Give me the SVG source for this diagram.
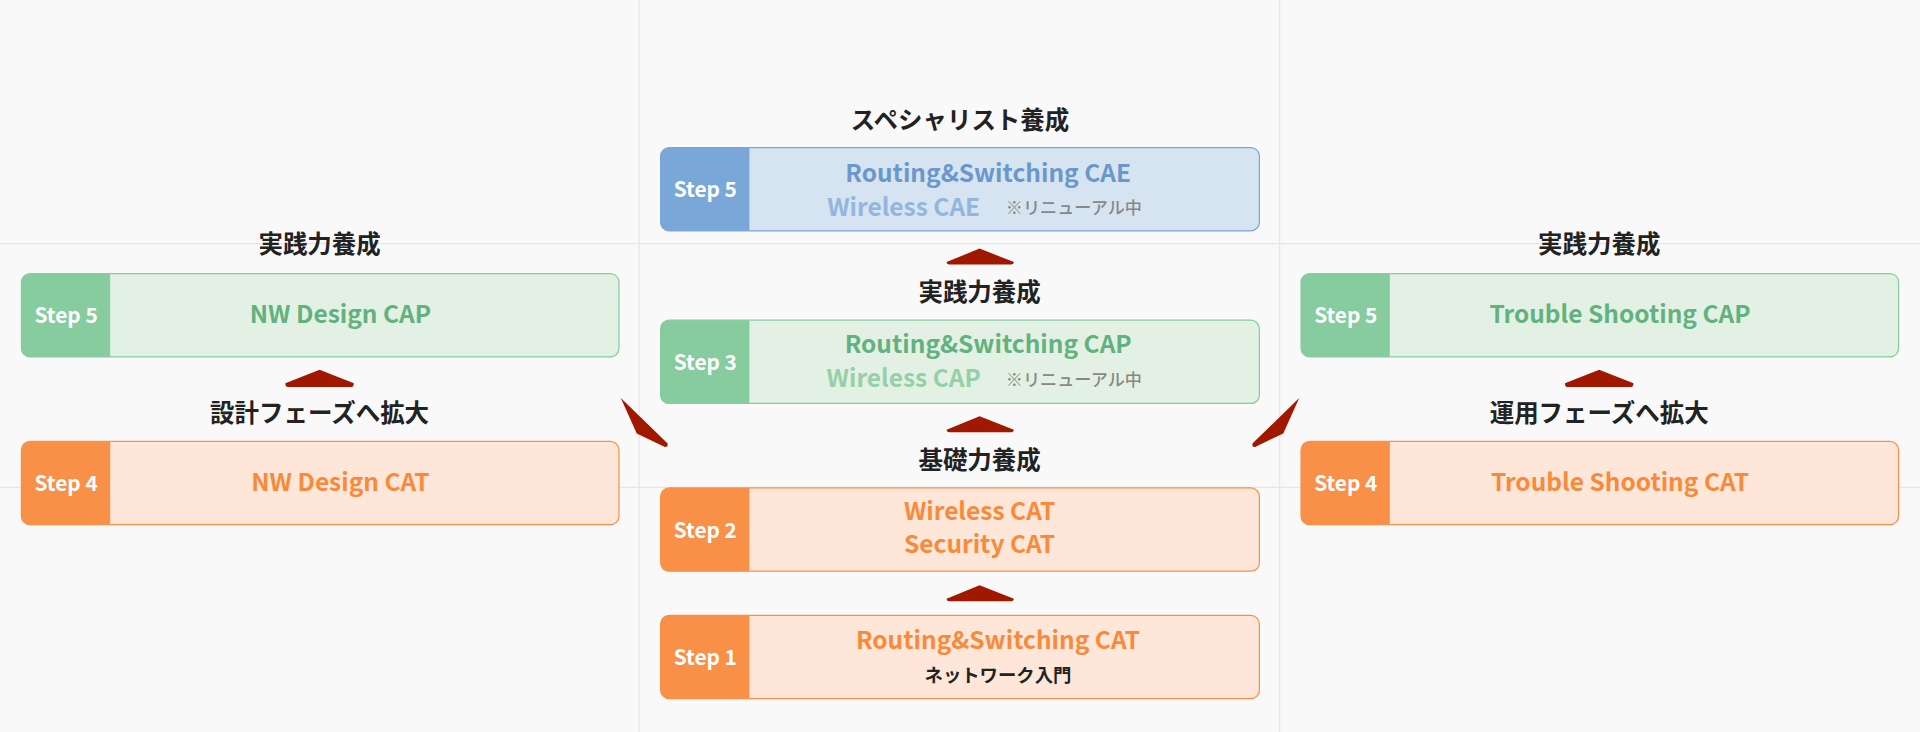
<svg xmlns="http://www.w3.org/2000/svg" width="1920" height="732" viewBox="0 0 1920 732">
<style>
text{font-family:"Noto Sans CJK JP","Noto Sans",sans-serif;font-weight:700;text-anchor:middle}
.h{font-size:20px;fill:#222}
.s{font-size:17px;fill:#fff}
.m{font-size:20px}
.n{font-size:14px;fill:#888;font-weight:500}
.grid{stroke:#e6e6e6;stroke-width:1}
.arr{fill:#a01800}
</style>
<rect width="1920" height="732" fill="#f9f9f9"/>
<g transform="scale(1.2245)">
<g id="grid" class="grid">
<line x1="522" y1="0" x2="522" y2="598"/><line x1="1045" y1="0" x2="1045" y2="598"/>
<line x1="0" y1="199" x2="1568" y2="199"/><line x1="0" y1="398" x2="1568" y2="398"/>
</g>
<g id="labels">
<text class="h" x="784" y="105">スペシャリスト養成</text>
<text class="h" x="800" y="246">実践力養成</text>
<text class="h" x="800" y="383">基礎力養成</text>
<text class="h" x="261" y="207">実践力養成</text>
<text class="h" x="261" y="345">設計フェーズへ拡大</text>
<text class="h" x="1306" y="207">実践力養成</text>
<text class="h" x="1306" y="345">運用フェーズへ拡大</text>
</g>
<g id="c5">
<rect x="539.5" y="120.5" width="489" height="68" rx="7" fill="#d6e4f2" stroke="#79a7d8"/>
<path d="M546.5 120.5H612V188.5H546.5A7 7 0 0 1 539.5 181.5V127.5A7 7 0 0 1 546.5 120.5Z" fill="#79a7d8"/>
<text class="s" x="576" y="161">Step 5</text>
<text class="m" x="807" y="149" fill="#6a97cc">Routing&amp;Switching CAE</text>
<text class="m" x="738" y="176" fill="#93b5de">Wireless CAE</text>
<text class="n" x="877" y="175">※リニューアル中</text>
</g>
<g id="c3">
<rect x="539.5" y="261.5" width="489" height="68" rx="7" fill="#e2f1e4" stroke="#86cc9e"/>
<path d="M546.5 261.5H612V329.5H546.5A7 7 0 0 1 539.5 322.5V268.5A7 7 0 0 1 546.5 261.5Z" fill="#86cc9e"/>
<text class="s" x="576" y="302">Step 3</text>
<text class="m" x="807" y="288" fill="#62b27f">Routing&amp;Switching CAP</text>
<text class="m" x="738" y="316" fill="#96d0a8">Wireless CAP</text>
<text class="n" x="877" y="315">※リニューアル中</text>
</g>
<g id="c2">
<rect x="539.5" y="398.5" width="489" height="68" rx="7" fill="#fee6d8" stroke="#f89048"/>
<path d="M546.5 398.5H612V466.5H546.5A7 7 0 0 1 539.5 459.5V405.5A7 7 0 0 1 546.5 398.5Z" fill="#f89048"/>
<text class="s" x="576" y="439">Step 2</text>
<text class="m" x="800" y="425" fill="#f88a3c">Wireless CAT</text>
<text class="m" x="800" y="452" fill="#f88a3c">Security CAT</text>
</g>
<g id="c1">
<rect x="539.5" y="502.5" width="489" height="68" rx="7" fill="#fee6d8" stroke="#f89048"/>
<path d="M546.5 502.5H612V570.5H546.5A7 7 0 0 1 539.5 563.5V509.5A7 7 0 0 1 546.5 502.5Z" fill="#f89048"/>
<text class="s" x="576" y="543">Step 1</text>
<text class="m" x="815" y="530" fill="#f88a3c">Routing&amp;Switching CAT</text>
<text x="815" y="557" style="font-size:15px;fill:#222">ネットワーク入門</text>
</g>
<g id="l5">
<rect x="17.5" y="223.5" width="488" height="68" rx="7" fill="#e2f1e4" stroke="#86cc9e"/>
<path d="M24.5 223.5H90V291.5H24.5A7 7 0 0 1 17.5 284.5V230.5A7 7 0 0 1 24.5 223.5Z" fill="#86cc9e"/>
<text class="s" x="54" y="264">Step 5</text>
<text class="m" x="278" y="264" fill="#62b27f">NW Design CAP</text>
</g>
<g id="l4">
<rect x="17.5" y="360.5" width="488" height="68" rx="7" fill="#fee6d8" stroke="#f89048"/>
<path d="M24.5 360.5H90V428.5H24.5A7 7 0 0 1 17.5 421.5V367.5A7 7 0 0 1 24.5 360.5Z" fill="#f89048"/>
<text class="s" x="54" y="401">Step 4</text>
<text class="m" x="278" y="401" fill="#f88a3c">NW Design CAT</text>
</g>
<g id="r5">
<rect x="1062.5" y="223.5" width="488" height="68" rx="7" fill="#e2f1e4" stroke="#86cc9e"/>
<path d="M1069.5 223.5H1135V291.5H1069.5A7 7 0 0 1 1062.5 284.5V230.5A7 7 0 0 1 1069.5 223.5Z" fill="#86cc9e"/>
<text class="s" x="1099" y="264">Step 5</text>
<text class="m" x="1323" y="264" fill="#62b27f">Trouble Shooting CAP</text>
</g>
<g id="r4">
<rect x="1062.5" y="360.5" width="488" height="68" rx="7" fill="#fee6d8" stroke="#f89048"/>
<path d="M1069.5 360.5H1135V428.5H1069.5A7 7 0 0 1 1062.5 421.5V367.5A7 7 0 0 1 1069.5 360.5Z" fill="#f89048"/>
<text class="s" x="1099" y="401">Step 4</text>
<text class="m" x="1323" y="401" fill="#f88a3c">Trouble Shooting CAT</text>
</g>
<g id="connectors" class="arr">
<path d="M800 203L828 214Q828 216 826 216H775Q773 216 773 214Z"/>
<path d="M800 340L828 351Q828 353 826 353H775Q773 353 773 351Z"/>
<path d="M800 478L828 489Q828 491 826 491H775Q773 491 773 489Z"/>
<path d="M261 302L289 313Q289 316 287 316H235Q233 316 233 313Z"/>
<path d="M1306 302L1334 313Q1334 316 1332 316H1280Q1278 316 1278 313Z"/>
<path d="M507 325L545 362Q546 365 543 365L520 354Z"/>
<path d="M1061 325L1023 362Q1022 365 1025 365L1048 354Z"/>
</g>
</g>
</svg>
